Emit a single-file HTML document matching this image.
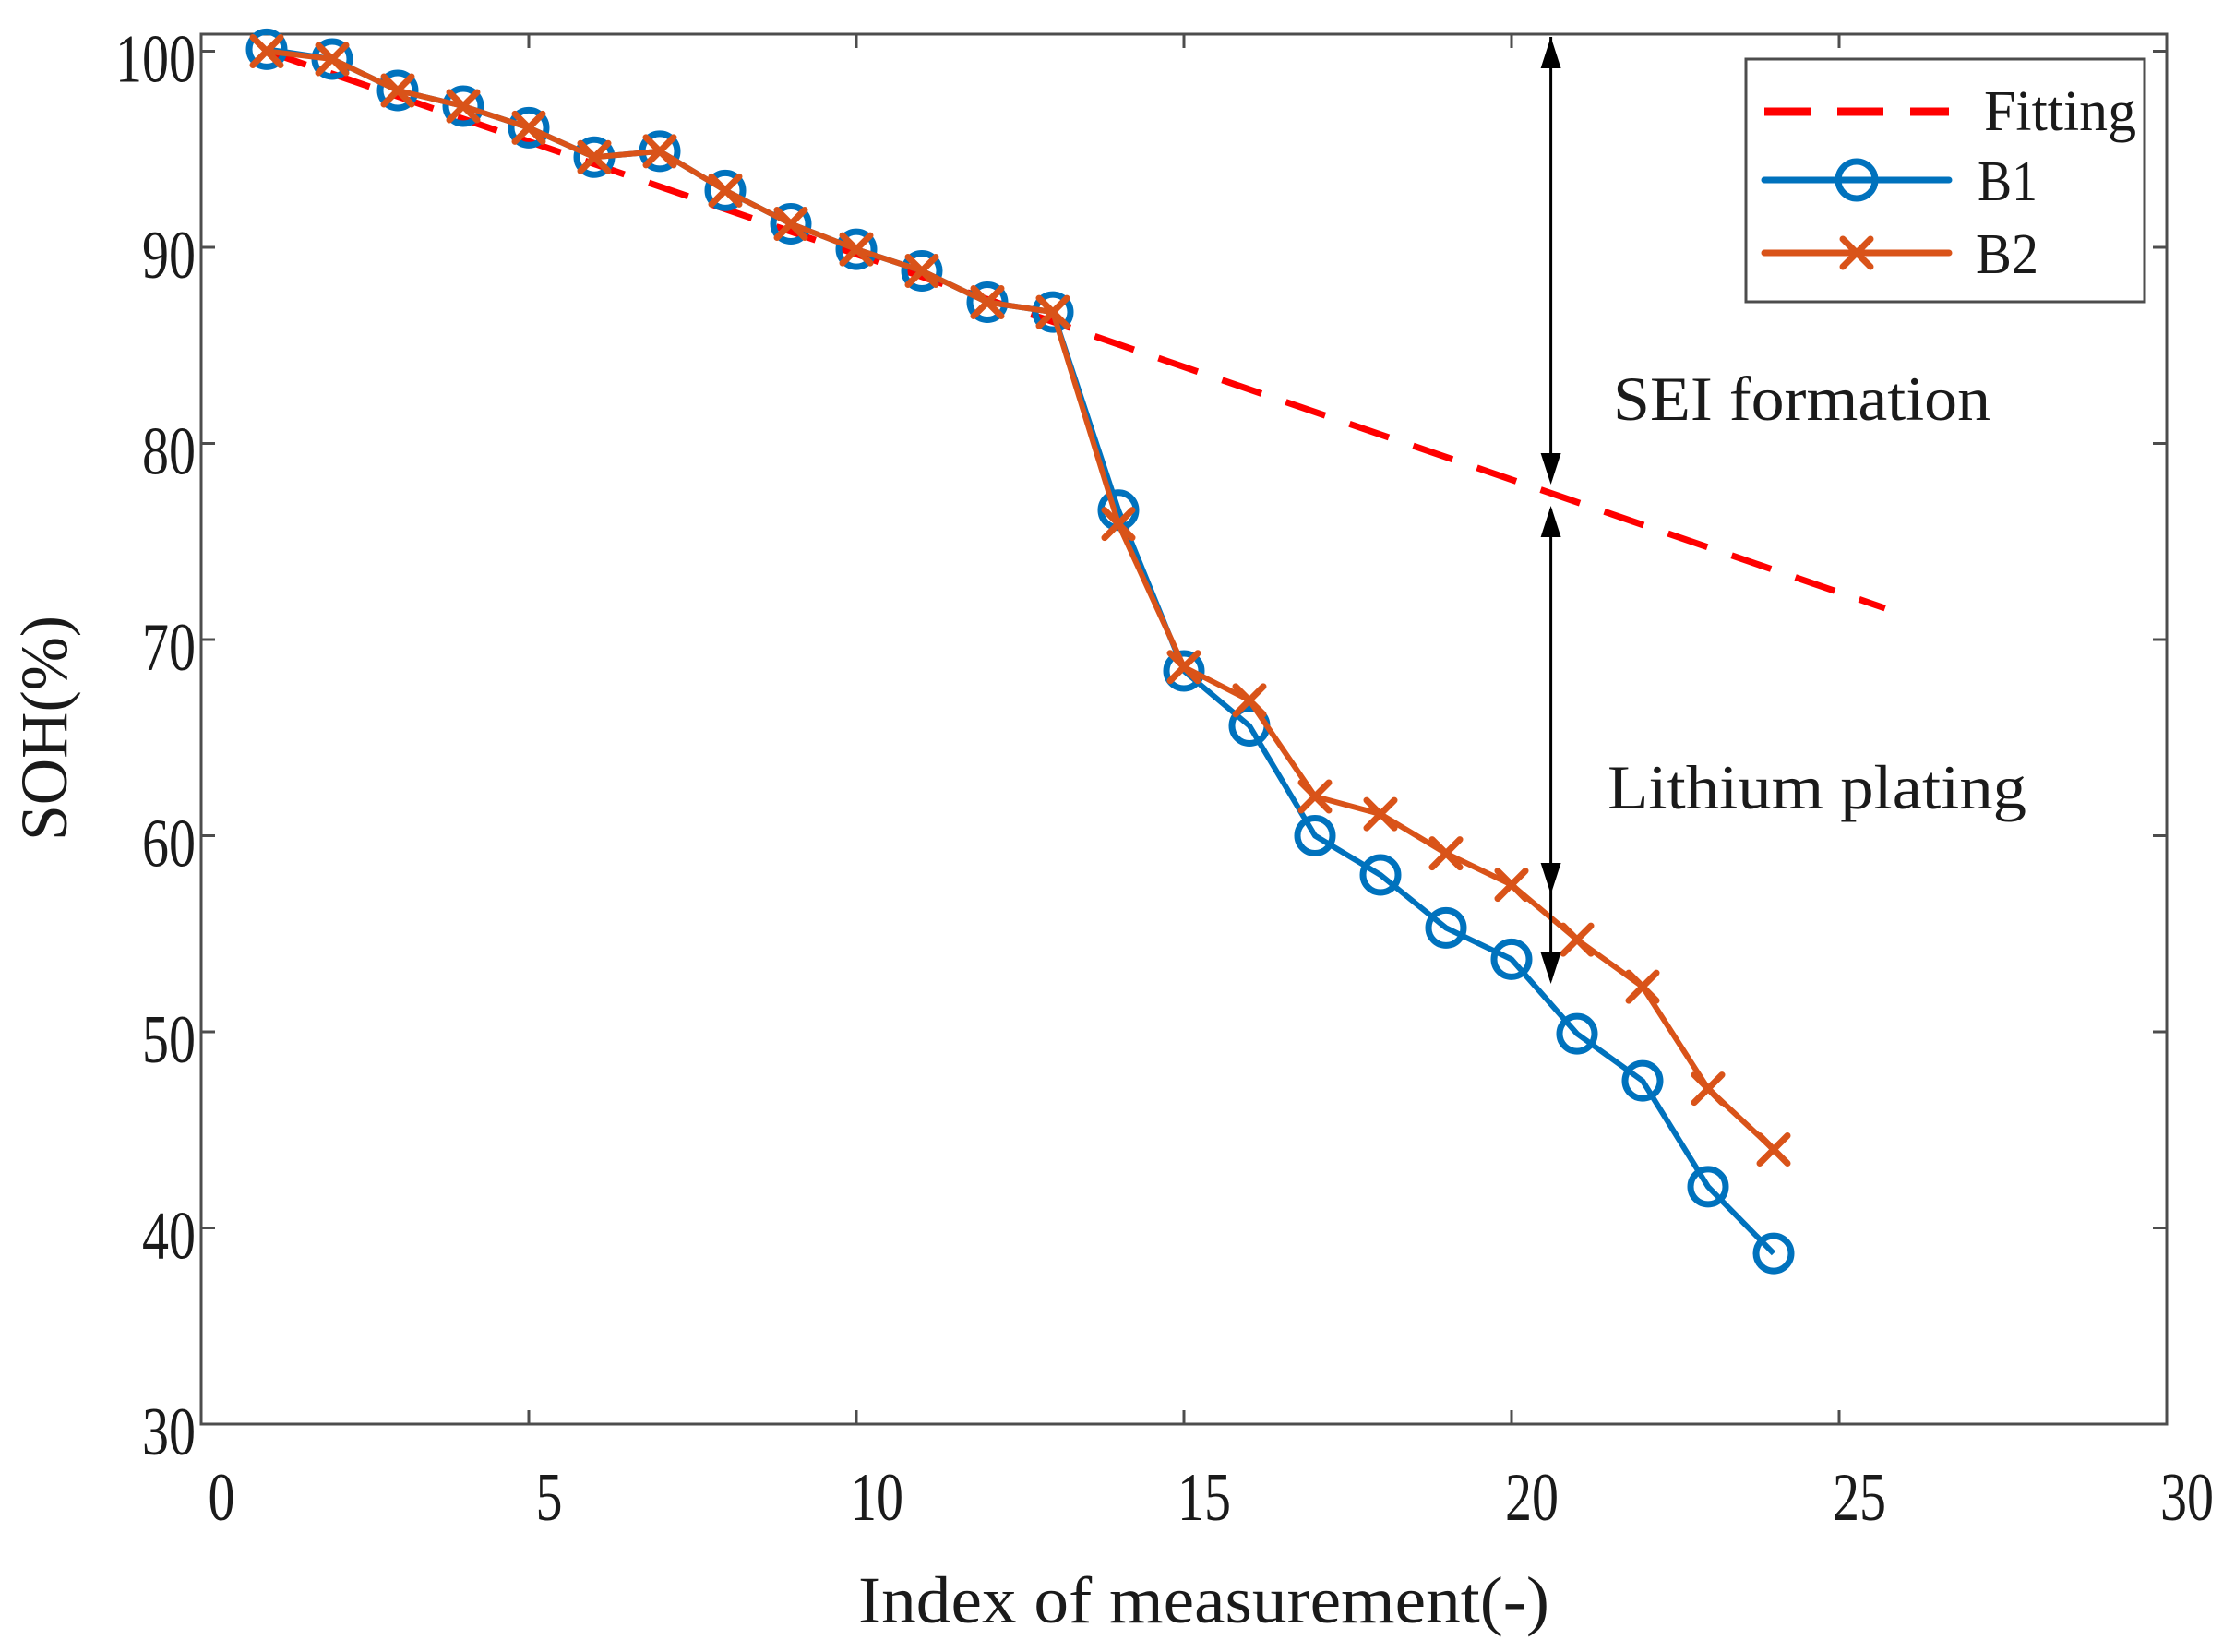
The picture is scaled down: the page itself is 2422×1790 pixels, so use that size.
<!DOCTYPE html>
<html><head><meta charset="utf-8"><style>
html,body{margin:0;padding:0;background:#fff;}
svg{display:block;}
text{font-family:"Liberation Serif",serif;fill:#1a1a1a;}
</style></head><body>
<svg id="chart" width="2422" height="1790" viewBox="0 0 2422 1790" xmlns="http://www.w3.org/2000/svg">
<g id="grid"></g>
<g id="series"></g>
<g id="annot"></g>
<g id="legend"></g>
</svg>
<script>
const xTicks=[0,5,10,15,20,25,30];
const yTicks=[30,40,50,60,70,80,90,100];
const idx=[1,2,3,4,5,6,7,8,9,10,11,12,13,14,15,16,17,18,19,20,21,22,23,24];
const b1=[100.1,99.6,98.0,97.2,96.1,94.6,94.9,92.9,91.2,89.9,88.8,87.2,86.7,76.6,68.4,65.6,60.0,58.0,55.3,53.7,49.9,47.5,42.1,38.7];
const b2=[100.0,99.6,98.0,97.2,96.1,94.6,94.9,92.9,91.2,89.9,88.8,87.2,86.7,75.9,68.6,66.9,62.0,61.1,59.1,57.5,54.7,52.3,47.1,44.0];
const fitX=[1,25.7];
const fitY=[100.0,71.6];

const L=218,R=2348,T=37,B=1543;
const sx=v=>L+(v-0)*(R-L)/30;
const sy=v=>B-(v-30)*21.25;
const NS='http://www.w3.org/2000/svg';
function mk(tag,attrs,parent){const e=document.createElementNS(NS,tag);for(const k in attrs)e.setAttribute(k,attrs[k]);parent.appendChild(e);return e;}
const svg=document.getElementById('chart');
const grid=document.getElementById('grid'),ser=document.getElementById('series'),ann=document.getElementById('annot'),leg=document.getElementById('legend');

// axes box
let box=mk('rect',{x:L,y:T,width:R-L,height:B-T,fill:'none',stroke:'#4d4d4d','stroke-width':3},grid);


xTicks.forEach(v=>{
  const x=sx(v);
  let t1=mk('line',{x1:x,x2:x,y1:B,y2:B-15,stroke:'#4d4d4d','stroke-width':3},grid);
  
  
  let t2=mk('line',{x1:x,x2:x,y1:T,y2:T+15,stroke:'#4d4d4d','stroke-width':3},grid);
  
  
  const s=String(v);
  let tx=mk('text',{x:x+22,y:1647,'font-size':74,'text-anchor':'middle',textLength:s.length*29,lengthAdjust:'spacingAndGlyphs'},grid);
  tx.textContent=s;
  
  
});
yTicks.forEach(v=>{
  const y=sy(v);
  let t1=mk('line',{x1:L,x2:L+15,y1:y,y2:y,stroke:'#4d4d4d','stroke-width':3},grid);
  
  
  let t2=mk('line',{x1:R,x2:R-15,y1:y,y2:y,stroke:'#4d4d4d','stroke-width':3},grid);
  
  
  const s=String(v);
  let tx=mk('text',{x:212,y:y+33,'font-size':74,'text-anchor':'end',textLength:s.length*29,lengthAdjust:'spacingAndGlyphs'},grid);
  tx.textContent=s;
  
  
});
let xl=mk('text',{x:930,y:1758,'font-size':72,textLength:749,lengthAdjust:'spacingAndGlyphs'},grid);
xl.textContent='Index of measurement(-)';


let yl=mk('text',{x:0,y:0,'font-size':72,'text-anchor':'middle',textLength:244,lengthAdjust:'spacingAndGlyphs',transform:'translate(72,789) rotate(-90)'},grid);
yl.textContent='SOH(%)';



// fitting
let fit=mk('line',{x1:sx(fitX[0]),y1:sy(fitY[0]),x2:sx(fitX[1]),y2:sy(fitY[1]),stroke:'#ff0000','stroke-width':7,'stroke-dasharray':'45 28'},ser);



function drawSeries(vals,color,marker,name){
  const pts=idx.map((x,i)=>sx(x)+','+sy(vals[i])).join(' ');
  let pl=mk('polyline',{points:pts,fill:'none',stroke:color,'stroke-width':6,'stroke-linejoin':'round'},ser);
  
  
  idx.forEach((x,i)=>{
    const cx=sx(x),cy=sy(vals[i]);
    if(marker==='o'){
      let c=mk('circle',{cx:cx,cy:cy,r:19,fill:'none',stroke:color,'stroke-width':7},ser);
      
      
    }else{
      let p=mk('path',{d:`M${cx-15},${cy-15}L${cx+15},${cy+15}M${cx-15},${cy+15}L${cx+15},${cy-15}`,stroke:color,'stroke-width':7,'stroke-linecap':'round'},ser);
      
      
    }
  });
}
drawSeries(b1,'#0072BD','o','b1');
drawSeries(b2,'#D95319','x','b2');

// annotations
const ax=sx(20.6);
function arrow(y1,y2,name){
  let l=mk('line',{x1:ax,x2:ax,y1:y1,y2:y2,stroke:'#000','stroke-width':3},ann);
  
  
}
function head(y,dir,name){
  let p=mk('path',{d:`M${ax},${y}L${ax-11},${y-dir*34}L${ax+11},${y-dir*34}Z`,fill:'#000'},ann);
  
  
}
arrow(40,520,'sei-arrow');
head(40,-1,'sei-arrowhead-up');head(525,1,'sei-arrowhead-down');
arrow(552,1062,'plating-arrow');
head(548,-1,'plating-arrowhead-up');head(969,1,'plating-arrowhead-mid');head(1066,1,'plating-arrowhead-down');
let t1=mk('text',{x:1748,y:455,'font-size':68,textLength:409,lengthAdjust:'spacingAndGlyphs'},ann);
t1.textContent='SEI formation';


let t2=mk('text',{x:1742,y:876,'font-size':68,textLength:454,lengthAdjust:'spacingAndGlyphs'},ann);
t2.textContent='Lithium plating';



// legend
let lb=mk('rect',{x:1892,y:64,width:432,height:263,fill:'#fff',stroke:'#4d4d4d','stroke-width':3},leg);


let lf=mk('line',{x1:1912,x2:2112,y1:121,y2:121,stroke:'#ff0000','stroke-width':9,'stroke-dasharray':'50 29'},leg);


let l1=mk('line',{x1:1912,x2:2112,y1:195,y2:195,stroke:'#0072BD','stroke-width':7,'stroke-linecap':'round'},leg);


let c1=mk('circle',{cx:2012,cy:195,r:20,fill:'none',stroke:'#0072BD','stroke-width':7},leg);


let l2=mk('line',{x1:1912,x2:2112,y1:274,y2:274,stroke:'#D95319','stroke-width':7,'stroke-linecap':'round'},leg);


let x2=mk('path',{d:'M1997,259L2027,289M1997,289L2027,259',stroke:'#D95319','stroke-width':7,'stroke-linecap':'round'},leg);


const lt=[['Fitting',2150,141,165],['B1',2143,217,65],['B2',2141,296,68]];
lt.forEach(([s,x,y,w])=>{
  let t=mk('text',{x:x,y:y,'font-size':62,textLength:w,lengthAdjust:'spacingAndGlyphs'},leg);
  t.textContent=s;
  
  
});
</script>
</body></html>
